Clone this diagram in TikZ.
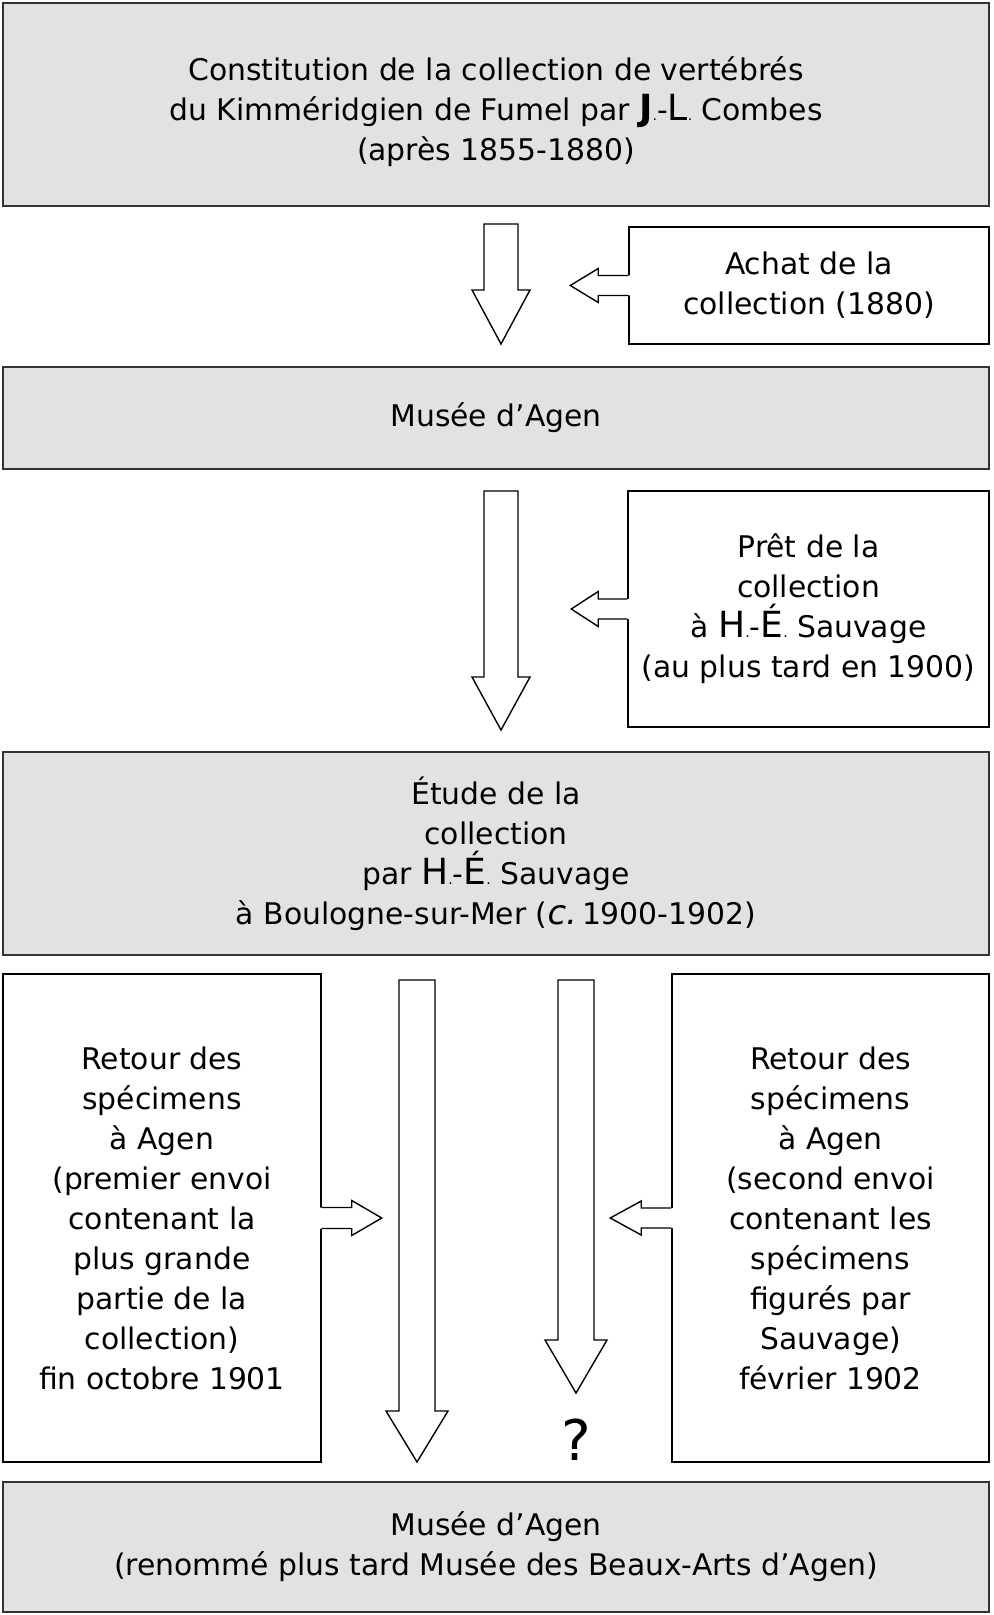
\documentclass[tikz,border=0pt]{standalone}
\usepackage{fontspec}
\setmainfont{DejaVu Sans}
\usepackage{tikz}
\usetikzlibrary{calc}
\definecolor{cgrey}{HTML}{E2E2E2}
\definecolor{cedge}{HTML}{333333}
\tikzset{
  stagebox/.style={draw=cedge, line width=1pt, fill=cgrey, align=center,
    inner sep=0pt, font=\fontsize{14.9}{20}\selectfont},
  notebox/.style={draw=black, line width=0.75pt, fill=white, align=center,
    inner sep=0pt, font=\fontsize{14.9}{20}\selectfont},
  blockarrow/.style={draw=black, line width=0.7pt, fill=white, line join=miter}
}
\newcommand{\bigini}[1]{{\fontsize{18}{20}\selectfont #1}}
\newcommand{\smalldot}{{\fontsize{7}{20}\selectfont .}}
\newcommand{\downblock}[5]{%
  \draw[blockarrow] ($(#1)+(-#4,0)$) -- ($(#2)+(-#4,-#3)$) -- ($(#2)+(-#5,-#3)$) -- (#2)
    -- ($(#2)+(#5,-#3)$) -- ($(#2)+(#4,-#3)$) -- ($(#1)+(#4,0)$) -- cycle;}
\newcommand{\sideblock}[6]{%
  \fill[white] ($(#1)+(#6,-#4)$) -- ($(#2)+(#3,-#4)$) -- ($(#2)+(#3,-#5)$) -- (#2)
    -- ($(#2)+(#3,#5)$) -- ($(#2)+(#3,#4)$) -- ($(#1)+(#6,#4)$) -- cycle;
  \draw[blockarrow, fill=none] ($(#1)+(0,-#4)$) -- ($(#2)+(#3,-#4)$) -- ($(#2)+(#3,-#5)$) -- (#2)
    -- ($(#2)+(#3,#5)$) -- ($(#2)+(#3,#4)$) -- ($(#1)+(0,#4)$);}

\begin{document}
\begin{tikzpicture}[x=0.5pt, y=-0.5pt]
    \useasboundingbox (0,0) rectangle (993,1615);

    \node[stagebox, minimum width=493pt, minimum height=101.5pt] (constitution) at (496,104.5)
      {\rule{0pt}{19.5pt}Constitution de la collection de vertébrés\\du Kimméridgien de Fumel par {\bfseries\bigini{J}}\smalldot-\bigini{L}\smalldot{} Combes\\(après 1855-1880)};
    \node[notebox, minimum width=180pt, minimum height=58.5pt] (achat) at (809,285.5)
      {Achat de la\\collection (1880)};
    \node[stagebox, minimum width=493pt, minimum height=51pt] (musee) at (496,418)
      {Musée d’Agen};
    \node[notebox, minimum width=180.5pt, minimum height=118pt] (pret) at (808.5,609)
      {Prêt de la\\collection\\à \bigini{H}\smalldot-\bigini{É}\smalldot{} Sauvage\\(au plus tard en 1900)};
    \node[stagebox, minimum width=493pt, minimum height=101.5pt] (etude) at (496,853.5)
      {Étude de la\\collection\\par \bigini{H}\smalldot-\bigini{É}\smalldot{} Sauvage\\à Boulogne-sur-Mer ({\fontsize{17}{20}\selectfont\itshape c.}\,1900-1902)};
    \node[notebox, minimum width=159pt, minimum height=244pt] (retourA) at (162,1218)
      {Retour des\\spécimens\\à Agen\\(premier envoi\\contenant la\\plus grande\\partie de la\\collection)\\fin octobre 1901};
    \node[notebox, minimum width=158.5pt, minimum height=244pt] (retourB) at (830.5,1218)
      {Retour des\\spécimens\\à Agen\\(second envoi\\contenant les\\spécimens\\figurés par\\Sauvage)\\février 1902};
    \node[stagebox, minimum width=493pt, minimum height=65pt] (agen) at (496,1547)
      {Musée d’Agen\\(renommé plus tard Musée des Beaux-Arts d’Agen)};
    \node[font=\fontsize{28}{30}\selectfont, inner sep=0pt] (query) at (576,1440) {?};

    \coordinate (a1top) at ($(constitution.south)+(5,17)$);
    \coordinate (a1tip) at ($(musee.north)+(5,-22)$);
    \coordinate (a2top) at ($(musee.south)+(5,21)$);
    \coordinate (a2tip) at ($(etude.north)+(5,-21)$);
    \coordinate (a3top) at ($(etude.south)+(-79,24)$);
    \coordinate (a3tip) at ($(agen.north)+(-79,-19)$);
    \coordinate (a4top) at ($(etude.south)+(80,24)$);
    \coordinate (a4tip) at ($(query.center)+(0,-47)$);
    \downblock{a1top}{a1tip}{54}{17}{29}
    \downblock{a2top}{a2tip}{53}{17}{29}
    \downblock{a3top}{a3tip}{51}{18}{31}
    \downblock{a4top}{a4tip}{53}{18}{31}

    \coordinate (s1tip) at ($(achat.west)+(-58,0)$);
    \coordinate (s2tip) at ($(pret.west)+(-56,0)$);
    \coordinate (s3tip) at ($(retourA.east)+(60,0)$);
    \coordinate (s4tip) at ($(retourB.west)+(-61,0)$);
    \sideblock{achat.west}{s1tip}{28}{10}{17}{2}
    \sideblock{pret.west}{s2tip}{27}{10}{17.5}{2}
    \sideblock{retourA.east}{s3tip}{-30}{10.5}{17.5}{-2}
    \sideblock{retourB.west}{s4tip}{31}{10}{17}{2}
  \end{tikzpicture}
\end{document}
